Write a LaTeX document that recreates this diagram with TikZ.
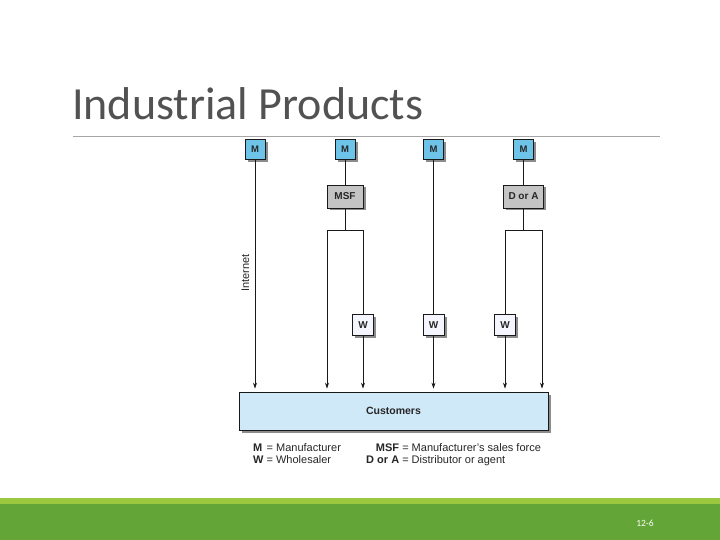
\documentclass[tikz,border=0pt]{standalone}
\usepackage{fontspec}
\setmainfont{Liberation Sans}
\newfontfamily\titlefont{Carlito}
\usetikzlibrary{arrows.meta,shadows}
\definecolor{mblue}{HTML}{6EC3E8}
\definecolor{custblue}{HTML}{CFE9F8}
\definecolor{midgray}{HTML}{C4C4C4}
\definecolor{barlight}{HTML}{9BC83E}
\definecolor{bardark}{HTML}{63A536}

\begin{document}
\begin{tikzpicture}[
    x=1pt, y=-1pt,
    box/.style={draw=black!90, line width=0.7pt, inner sep=0pt,
        font=\fontsize{9.5}{10}\selectfont\bfseries, text=black!85,
        drop shadow={shadow xshift=2.5pt, shadow yshift=-2.5pt,
            fill=black!45, opacity=1}},
    mbox/.style={box, fill=mblue, minimum width=20pt, minimum height=20pt},
    midbox/.style={box, fill=midgray, minimum height=23pt,
        font=\fontsize{10}{11}\selectfont\bfseries},
    wbox/.style={box, fill=blue!4, minimum width=21pt, minimum height=21pt,
        font=\fontsize{10}{11}\selectfont\bfseries},
    custbox/.style={box, fill=custblue, minimum width=309pt, minimum height=38pt,
        font=\fontsize{10.5}{12}\selectfont\bfseries},
    link/.style={line width=0.7pt, draw=black!90},
    feed/.style={link, -{Stealth[length=6pt,width=4pt]}, shorten >=3pt}
]
    \useasboundingbox (0,0) rectangle (720,540);
    \fill[barlight] (0,497.5) rectangle (720,504);
    \fill[bardark] (0,504) rectangle (720,540);
    \node[text=white, font=\titlefont\fontsize{9.5}{10}\selectfont] (page) at (645,523) {12-6};

    \node[anchor=base west, inner sep=0pt, text=black!68,
        font=\titlefont\fontsize{46}{50}\selectfont] (title) at (72,120) {Industrial Products};
    \draw[black!35, line width=0.8pt] (73,136.5) -- (660,136.5);

    \node[mbox] (m1) at (255,149.5) {M};
    \node[mbox] (m2) at (345,149.5) {M};
    \node[mbox] (m3) at (433.5,149.5) {M};
    \node[mbox] (m4) at (523.5,149.5) {M};

    \node[midbox, minimum width=36pt] (msf) at (345,196.5) {MSF};
    \node[midbox, minimum width=40pt] (da) at (523.5,196.5) {D or A};

    \node[wbox] (w1) at (363,325) {W};
    \node[wbox] (w2) at (433.5,325) {W};
    \node[wbox] (w3) at (505,325) {W};

    \node[custbox] (cust) at (393.5,411) {Customers};

    \coordinate (j1l) at (327,230);
    \coordinate (j1r) at (363,230);
    \coordinate (j2l) at (505,230);
    \coordinate (j2r) at (542,230);

    \draw[feed] (m1) -- (m1 |- cust.north);
    \draw[link] (m2) -- (msf);
    \draw[link] (msf) -- (msf |- j1l);
    \draw[link] (j1l) -- (j1r);
    \draw[feed] (j1l) -- (j1l |- cust.north);
    \draw[link] (j1r) -- (w1);
    \draw[feed] (w1) -- (w1 |- cust.north);
    \draw[link] (m3) -- (w2);
    \draw[feed] (w2) -- (w2 |- cust.north);
    \draw[link] (m4) -- (da);
    \draw[link] (da) -- (da |- j2l);
    \draw[link] (j2l) -- (j2r);
    \draw[link] (j2l) -- (w3);
    \draw[feed] (w3) -- (w3 |- cust.north);
    \draw[feed] (j2r) -- (j2r |- cust.north);

    \node[rotate=90, font=\fontsize{11}{12}\selectfont, text=black!85] (net) at (245.5,273) {Internet};

    \node[anchor=base west, inner sep=0pt, font=\fontsize{11}{12}\selectfont, text=black!85] (key1) at (253,451)
        {\begin{tabular}[t]{@{}l@{\ =\ }l@{}}\textbf{M} & Manufacturer\\ \textbf{W} & Wholesaler\end{tabular}};
    \node[anchor=base west, inner sep=0pt, font=\fontsize{11}{12}\selectfont, text=black!85] (key2) at (366,451)
        {\begin{tabular}[t]{@{}r@{\ =\ }l@{}}\textbf{MSF} & Manufacturer's sales force\\ \textbf{D or A} & Distributor or agent\end{tabular}};
\end{tikzpicture}
\end{document}
